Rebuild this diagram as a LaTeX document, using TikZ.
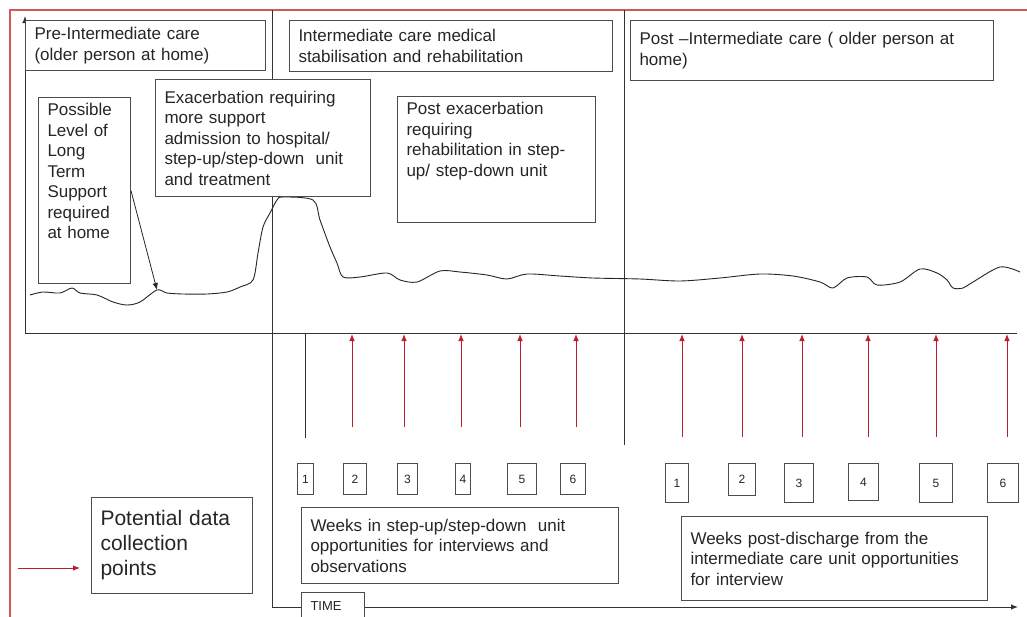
\documentclass[tikz,border=0pt]{standalone}
\usepackage{fontspec}
\setmainfont{Liberation Sans}
\usepackage{tikz}
\usetikzlibrary{arrows.meta}
\definecolor{dcred}{RGB}{190,30,45}
\definecolor{framered}{RGB}{205,90,90}

\begin{document}
\begin{tikzpicture}[x=1pt,y=-1pt,>={Latex[length=7pt,width=5.5pt]},
                    txt box/.style={draw=black!70,fill=white,line width=1pt,anchor=north west,align=left,inner xsep=9pt,inner ysep=6pt,text=black!85,font=\fontsize{17}{20.5}\selectfont},
                    week box/.style={draw=black!70,line width=1pt,minimum height=31pt,inner sep=0pt,anchor=north west,text=black!85,font=\fontsize{12}{14}\selectfont},
                    axis/.style={draw=black!80,line width=1pt},
                    data point/.style={->,dcred,line width=0.8pt}]
\useasboundingbox (0,0) rectangle (1027,616);
\clip (0,0) rectangle (1027,616);
\fill[white] (0,0) rectangle (1027,616);
\draw[framered,line width=1.2pt] (10,10) rectangle (1040,640);

% axes and phase dividers
\draw[axis,->] (25,333) -- (25,16);
\draw[axis] (25,333) -- (1017,333);
\draw[axis,->] (272,10) -- (272,607) -- (1018,607);
\draw[axis] (624,10) -- (624,445);
\draw[axis] (305,333) -- (305,438);

% level of support over time
\draw[black!85,line width=0.9pt] plot[smooth,tension=0.5] coordinates {
  (30,295) (43,292) (60,293) (72,288) (80,293) (97,295) (113,302) (127,305)
  (140,302) (157,290) (167,293) (183,294) (207,294) (227,292) (240,287)
  (253,280) (258,253) (263,227) (270,213) (277,200) (283,197) (313,200)
  (320,220) (330,247) (337,263) (343,277) (360,277) (387,273) (400,280)
  (417,282) (440,271) (460,272) (487,275) (507,279) (527,274) (560,276)
  (593,278) (640,279) (680,281) (720,278) (760,274) (793,276) (820,282)
  (833,288) (847,278) (867,277) (877,285) (900,282) (920,269) (937,273)
  (947,280) (953,288) (963,288) (973,282) (1000,267) (1020,272)};
\coordinate (lvl) at (157,290);

% phases
\node[txt box,text width=222pt,minimum height=50pt] (pre) at (25,20) {Pre-Intermediate care\\(older person at home)};
\node[txt box,text width=305pt,minimum height=51pt] (inter) at (289,20) {Intermediate care medical\\stabilisation and rehabilitation};
\node[txt box,text width=345pt,minimum height=60pt] (post) at (630,20) {Post –Intermediate care ( older person at\\home)};

\node[txt box,text width=74pt,text depth=162pt] (lts) at (38,97) {Possible\\Level of\\Long\\Term\\Support\\required\\at home};
\node[txt box,text width=197pt,minimum height=117pt] (exac) at (155,79) {Exacerbation requiring\\more support\\admission to hospital/\\step-up/step-down~ unit\\and treatment};
\node[txt box,text width=180pt,text depth=102pt] (postex) at (397,96) {Post exacerbation\\requiring\\rehabilitation in step-\\up/ step-down unit};

\draw[->,black!85,line width=0.8pt] (lts.east) -- (lvl);

% weeks
\foreach \n/\x/\w in {1/297/16,2/343/23,3/397/20,4/455/15,5/507/29,6/560/25}
  \node[week box,minimum width=\w] (s\n) at (\x,463) {\n};
\foreach \n/\x/\w/\h in {1/665/23/39,2/728/27/32,3/784/29/39,4/848/30/37,5/919/33/39,6/987/31/39}
  \node[week box,minimum width=\w,minimum height=\h] (d\n) at (\x,463) {\n};

\foreach \x in {352,404,461,520,576}
  \draw[data point] (\x,427) -- (\x,334);
\foreach \x in {682,742,802,868,936,1007}
  \draw[data point] (\x,437) -- (\x,334);

\node[txt box,text width=299pt,minimum height=76pt] (stay) at (301,507) {Weeks in step-up/step-down~ unit\\opportunities for interviews and\\observations};
\node[txt box,text width=288pt,minimum height=84pt] (after) at (681,516) {Weeks post-discharge from the\\intermediate care unit opportunities\\for interview};
\node[txt box,text width=45pt,minimum height=28pt,font=\fontsize{13}{15}\selectfont] (time) at (301,592) {TIME};

% legend
\node[txt box,text width=143pt,minimum height=96pt,font=\fontsize{21}{25}\selectfont] (pdc) at (91,497) {Potential data\\collection\\points};
\coordinate (leg) at (18,568);
\draw[data point,shorten >=11pt] (leg) -- (leg -| pdc.west);
\end{tikzpicture}
\end{document}
